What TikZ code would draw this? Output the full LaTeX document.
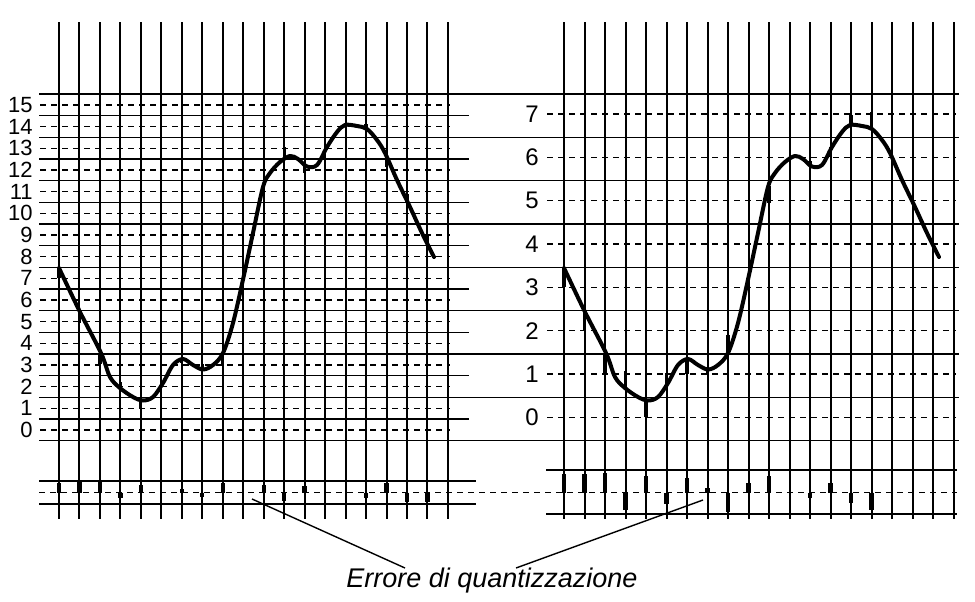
\documentclass[tikz,border=0pt]{standalone}
\usepackage{fontspec}
\setmainfont{Liberation Sans}
\usetikzlibrary{positioning}
\tikzset{>=latex}

% segnale analogico (stessa forma nei due grafici)
\newcommand{\segnale}{%
  \draw[signal] plot[smooth, tension=0.55] coordinates {
    (59,268) (80,312) (101,353) (110,377) (120,388) (133,397) (143,400.5)
    (153,397) (163,383) (173,365) (183,359) (193,365) (203,369.5) (213,365)
    (223,353) (233,323) (244,275) (253,233) (263,187) (270,173) (280,162)
    (290,156) (298,159) (307,166.5) (317,165) (327,147) (337,132) (345,125)
    (357,126) (367,129) (377,140) (385,153) (397,180) (410,207) (422,233)
    (434,257)};}

\begin{document}
\begin{tikzpicture}[x=0.5pt, y=-0.5pt,
  vline/.style={line width=1pt},
  hline/.style={line width=0.8pt},
  qline/.style={line width=0.7pt, dash pattern=on 3pt off 2.5pt},
  signal/.style={line width=2pt, line join=round, line cap=round},
  errbar/.style={line width=2.2pt},
  qtick/.style={line width=1.6pt},
  levA/.style={anchor=east, inner sep=0pt, font=\fontsize{11}{12}\selectfont},
  levB/.style={anchor=east, inner sep=0pt, font=\fontsize{12}{13}\selectfont},
  pointer/.style={line width=0.7pt}]

\useasboundingbox (0,0) rectangle (975,601);

% campionamento
\foreach \i in {0,...,19} {
  \draw[vline] (59+20.47*\i,22) -- (59+20.47*\i,519);
  \draw[vline] (564+20.5*\i,22) -- (564+20.5*\i,519);
}

% soglie di decisione
\foreach \k in {0,...,8}
  \draw[hline] (39,94+43.33*\k) -- (959,94+43.33*\k);
\foreach \k in {0,...,7}
  \draw[hline] (39,115.67+43.33*\k) -- (469,115.67+43.33*\k);

% livelli di quantizzazione
\foreach \v in {0,...,15} {
  \draw[qline] (40,430-21.67*\v) -- (450,430-21.67*\v);
  \node[levA] (a\v) at (33,430-21.67*\v) {\v};
}
\foreach \v in {0,...,7} {
  \draw[qline] (547,417.3-43.33*\v) -- (956,417.3-43.33*\v);
  \node[levB] (b\v) at (539,417.3-43.33*\v) {\v};
}

% striscia dell'errore
\draw[hline] (39,481) -- (476,481);
\draw[hline] (39,504) -- (476,504);
\draw[hline] (546,470) -- (957,470);
\draw[hline] (546,514) -- (957,514);
\draw[qline] (39,492.5) -- (957,492.5);

% i / y del segnale / errore 16 livelli / errore 8 livelli
\foreach \i/\yc/\ea/\eb in {0/268/10/19, 1/312/11.4/19, 2/353/11/20,
    3/388/-5.7/-17, 4/400/7.7/17, 5/384/0/-11, 6/359/4/15, 7/369/-4.7/4.6,
    8/354/10/-19, 9/275/0/10, 10/186/7.7/17, 11/156/-8.7/0, 12/166/6.7/-5,
    13/147/0/10, 14/125/0/-10, 15/129/-5/-17, 16/157/10/0, 17/203/-9.3/0,
    18/245/-9.3/0} {
  \draw[qtick] (59+20.47*\i,\yc) -- (59+20.47*\i,\yc+\ea);
  \draw[qtick] (564+20.5*\i,\yc) -- (564+20.5*\i,\yc+\eb);
  \draw[errbar] (59+20.47*\i,492.5) -- (59+20.47*\i,492.5-\ea);
  \draw[errbar] (564+20.5*\i,492.5) -- (564+20.5*\i,492.5-\eb);
}

\segnale
\begin{scope}[shift={(505,0)}]
  \segnale
\end{scope}

\node[font=\fontsize{13.5}{15}\selectfont\itshape] (nota) at (492,581) {Errore di quantizzazione};
\coordinate (errA) at (252,499);
\coordinate (errB) at (703,500);
\coordinate (notaA) at (405,568);
\coordinate (notaB) at (516,568);
\draw[pointer] (errA) -- (notaA);
\draw[pointer] (errB) -- (notaB);
\end{tikzpicture}
\end{document}
